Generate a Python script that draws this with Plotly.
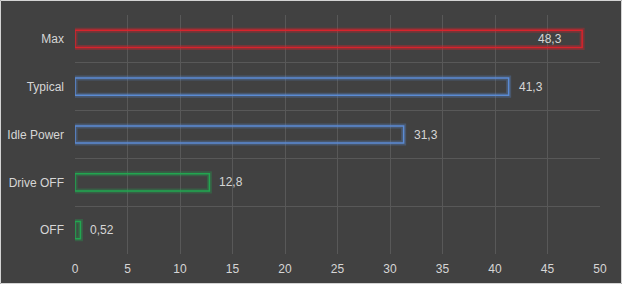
import plotly.graph_objects as go

categories = ["OFF", "Drive OFF", "Idle Power", "Typical", "Max"]
values = [0.52, 12.8, 31.3, 41.3, 48.3]
colors = ["#22a650", "#22a650", "#5b8bd4", "#5b8bd4", "#d8232c"]
glows = ["rgba(34,166,80,0.30)", "rgba(34,166,80,0.30)", "rgba(91,139,212,0.30)",
         "rgba(91,139,212,0.30)", "rgba(216,35,44,0.35)"]
inside_label = [False, False, False, False, True]
x_ticks = [0, 5, 10, 15, 20, 25, 30, 35, 40, 45, 50]

BG = "#414141"
TXT = "#d6d6d6"
GRID = "#585858"

fig = go.Figure()
fig.add_trace(go.Bar(
    y=categories, x=values, orientation="h", width=0.36,
    marker=dict(color="rgba(0,0,0,0)", line=dict(color=glows, width=5)),
    hoverinfo="skip", showlegend=False))
fig.add_trace(go.Bar(
    y=categories, x=values, orientation="h", width=0.36,
    marker=dict(color="rgba(0,0,0,0)", line=dict(color=colors, width=1.5)),
    showlegend=False))

labels = [f"{v:g}".replace(".", ",") for v in values]
for c, v, lab, ins in zip(categories, values, labels, inside_label):
    fig.add_annotation(x=v, y=c, text=lab, showarrow=False,
                       xanchor="right" if ins else "left",
                       xshift=-18 if ins else 8,
                       font=dict(color=TXT, size=12, family="Liberation Sans, Arial"))

L, R, T, B = 75, 22, 15, 30
W, H = 622, 284
pw, ph = W - L - R, H - T - B
fig.add_shape(type="rect", xref="paper", yref="paper",
              x0=-(L - 0.5) / pw, x1=1 + (R - 0.5) / pw,
              y0=-(B - 0.5) / ph, y1=1 + (T - 0.5) / ph,
              line=dict(color="#d4d4d4", width=1), layer="above")

fig.update_layout(
    width=W, height=H, margin=dict(l=L, r=R, t=T, b=B, autoexpand=False),
    paper_bgcolor=BG, plot_bgcolor=BG, barmode="overlay",
    font=dict(family="Liberation Sans, Arial", size=12, color=TXT),
    xaxis=dict(range=[0, 50], tickvals=x_ticks, showgrid=True, gridcolor=GRID,
               gridwidth=1, zeroline=False, showline=False, ticks="", automargin=False,
               ticklabelstandoff=6, tickfont=dict(size=12, color=TXT), fixedrange=True),
    yaxis=dict(categoryorder="array", categoryarray=categories, showgrid=True,
               gridcolor=GRID, tickson="boundaries", ticks="", showline=False,
               automargin=False,
               ticklabelstandoff=10, tickfont=dict(size=12, color=TXT),
               range=[-0.5, 4.5], fixedrange=True),
)
fig.write_html("out.html")
